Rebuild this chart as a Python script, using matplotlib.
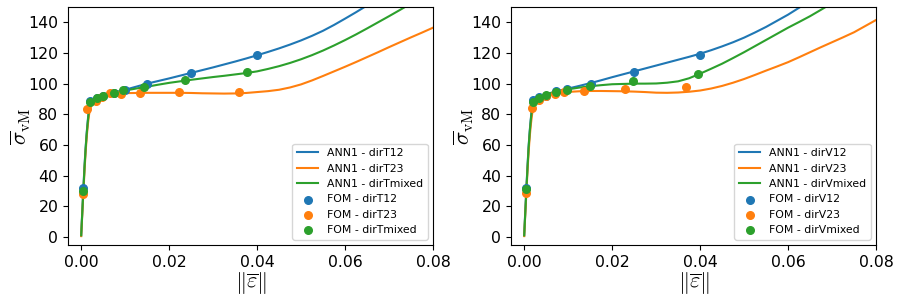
import matplotlib
matplotlib.use("Agg")
import matplotlib.pyplot as plt

plt.rcParams['mathtext.fontset'] = 'cm'

# ---------------- data ----------------
# ANN1 curve strain samples
x_ann = [0, 0.00025, 0.0005, 0.00075, 0.001, 0.00125, 0.0015, 0.00175, 0.002, 0.0025,
         0.003, 0.004, 0.005, 0.0075, 0.01, 0.0125, 0.015, 0.0175,
         0.02, 0.0225, 0.025, 0.0275, 0.03, 0.0325, 0.035, 0.0375, 0.04, 0.0425,
         0.045, 0.0475, 0.05, 0.0525, 0.055, 0.0575, 0.06, 0.0625, 0.065, 0.0675,
         0.07, 0.0725, 0.075, 0.0775, 0.08]

# Left panel (dirT)
ann_T12 = [1, 17, 32, 46, 58, 68, 76, 83, 87, 89, 90, 91.2, 92.3, 94.3, 96, 98, 100, 101.7,
           103.4, 105.2, 107, 108.8, 110.6, 112.5, 114.4, 116.4, 118.5, 120.7, 123, 125.5,
           128.2, 131.2, 134.5, 138.3, 142.4, 146.6, 151, 155.5, 160, 164.5, 169, 173.5, 178]
ann_T23 = [0.5, 15, 29, 43, 55, 65, 73, 79, 83.5, 86.5, 88.3, 90.6, 92, 93.5, 93.8, 93.9, 94, 94,
           94, 94, 93.9, 93.7, 93.6, 93.5, 93.6, 93.9, 94.5, 95.1, 96, 97.5,
           99.5, 102.1, 105, 108, 111, 114.1, 117.3, 120.5, 123.8, 127, 130.2, 133.3, 136.5]
ann_Tmixed = [1, 16, 30.5, 45, 57, 67, 75, 82, 86.5, 88.8, 89.8, 91, 92, 94, 95.5, 96.8, 98, 99.3,
              100.5, 101.5, 102.5, 103.4, 104.3, 105.1, 106, 106.9, 108, 109.6, 111.4, 113.5,
              115.9, 118.6, 121.6, 124.9, 128.4, 132.1, 136, 140, 144, 148.1, 152.3, 156.6, 161]

# Right panel (dirV)
ann_V12 = [1, 17, 32, 46, 59, 69, 77, 84, 88, 90, 91, 92.2, 93.2, 95, 96.8, 98.5, 100.3, 102.2,
           104.2, 106.1, 108, 109.9, 111.8, 113.7, 115.6, 117.5, 119.5, 121.8, 124.3, 127,
           130, 133.4, 137, 141, 145, 149.5, 154, 158.5, 163, 167.5, 172, 176.5, 181]
ann_V23 = [0.5, 15, 29, 43, 55, 65, 73, 79, 84, 87, 89, 91, 92.3, 93.8, 94.6, 95, 95.2, 95.2,
           95.1, 95, 94.8, 94.5, 94.1, 94, 94.2, 94.7, 95.5, 96.8, 98.5, 100.6,
           103, 105.7, 108.5, 111.2, 114, 117.2, 120.5, 123.8, 127, 130.2, 133.5, 137.5, 141.5]
ann_Vmixed = [1, 16, 31, 45, 58, 68, 76, 83, 87, 89.5, 90.5, 92, 93, 95, 96.3, 97.4, 98.3, 99,
              99.6, 99.8, 100, 100, 100.1, 100.6, 101.5, 103.5, 106.5, 109.7, 113, 116.7,
              120.5, 124.5, 128.5, 132.5, 136.5, 140.2, 144, 148.2, 152.5, 156.8, 161, 165.5, 170]

# FOM points, left panel
fom_T12_x = [0.0005, 0.0019, 0.0036, 0.005, 0.0074, 0.01, 0.015, 0.025, 0.0399]
fom_T12_y = [31.8, 88.5, 90.6, 91.8, 94, 96.1, 100, 107.1, 118.4]
fom_T23_x = [0.0004, 0.0014, 0.0033, 0.0047, 0.0066, 0.009, 0.0134, 0.0223, 0.0358]
fom_T23_y = [28.1, 83.7, 88.5, 91.3, 94, 93.5, 94, 94.4, 94.8]
fom_Tmixed_x = [0.0005, 0.0019, 0.0036, 0.005, 0.0074, 0.0095, 0.0143, 0.0237, 0.0378]
fom_Tmixed_y = [29.8, 87.9, 90.6, 91.9, 94, 95.6, 97.9, 102.3, 107.5]

# FOM points, right panel
fom_V12_x = [0.0005, 0.0019, 0.0034, 0.005, 0.0073, 0.0097, 0.0152, 0.025, 0.04]
fom_V12_y = [31.7, 89.6, 91.2, 92.1, 95, 96.6, 100, 107.7, 118.4]
fom_V23_x = [0.00045, 0.00175, 0.0033, 0.005, 0.0069, 0.0091, 0.0137, 0.0229, 0.0367]
fom_V23_y = [28.6, 84.1, 89.6, 91.8, 93.5, 94.6, 95.3, 96.6, 97.9]
fom_Vmixed_x = [0.0005, 0.0019, 0.0034, 0.005, 0.0073, 0.0097, 0.015, 0.0247, 0.0396]
fom_Vmixed_y = [31.3, 88, 90.8, 92.5, 94.5, 96, 98.2, 102, 106]

panels = [
    (["dirT12", "dirT23", "dirTmixed"], [ann_T12, ann_T23, ann_Tmixed],
     [(fom_T12_x, fom_T12_y), (fom_T23_x, fom_T23_y), (fom_Tmixed_x, fom_Tmixed_y)]),
    (["dirV12", "dirV23", "dirVmixed"], [ann_V12, ann_V23, ann_Vmixed],
     [(fom_V12_x, fom_V12_y), (fom_V23_x, fom_V23_y), (fom_Vmixed_x, fom_Vmixed_y)]),
]

colors = ["#1f77b4", "#ff7f0e", "#2ca02c"]

fig = plt.figure(figsize=(8.98, 2.96), dpi=100)
ax_lefts = [68 / 898, 511 / 898]
for (names, anns, foms), left in zip(panels, ax_lefts):
    ax = fig.add_axes([left, 51 / 296, 365 / 898, 238 / 296])
    for name, y, c in zip(names, anns, colors):
        ax.plot(x_ann, y, color=c, lw=1.5, label="ANN1 - " + name)
    for name, (fx, fy), c in zip(names, foms, colors):
        ax.scatter(fx, fy, color=c, s=30, zorder=3, label="FOM - " + name)
    ax.set_xlim(-0.003, 0.08)
    ax.set_ylim(-5.3, 150)
    ax.set_xticks([0.0, 0.02, 0.04, 0.06, 0.08])
    ax.set_yticks([0, 20, 40, 60, 80, 100, 120, 140])
    ax.tick_params(labelsize=11.3)
    ax.set_xlabel(r"$\|\overline{\varepsilon}\|$", fontsize=16, labelpad=0)
    ax.set_ylabel(r"$\overline{\sigma}_{\mathrm{vM}}$", fontsize=16)
    ax.yaxis.set_label_coords(-0.097, 0.5)
    ax.legend(loc="lower right", fontsize=7.8)

fig.savefig("out.png", dpi=100)
